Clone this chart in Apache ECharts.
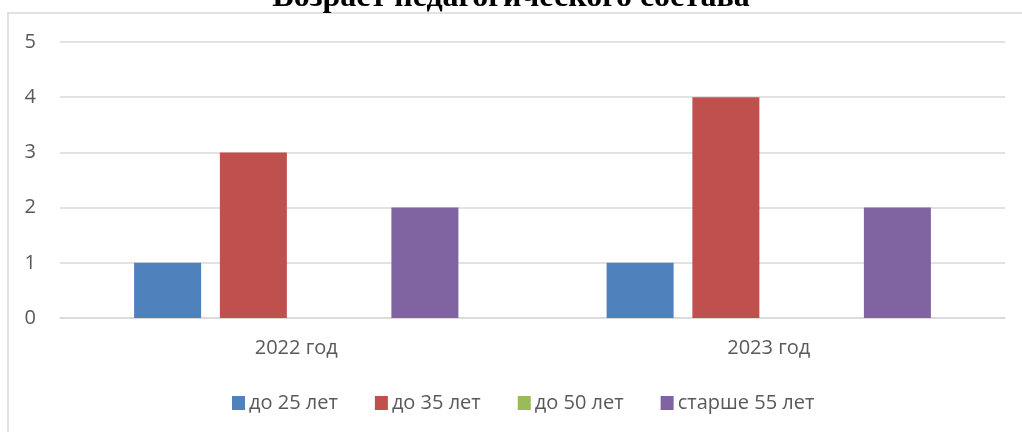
<!DOCTYPE html>
<html>
<head>
<meta charset="utf-8">
<script src="https://cdn.jsdelivr.net/npm/echarts@6/dist/echarts.min.js"></script>
<style>
  html, body { margin: 0; padding: 0; background: #fff; }
  #chart { width: 1022px; height: 432px; }
</style>
</head>
<body>
<div id="chart"></div>
<script>
// data
var years = ['2022 год', '2023 год'];
var names = ['до 25 лет', 'до 35 лет', 'до 50 лет', 'старше 55 лет'];
var under25 = [1, 1];
var under35 = [3, 4];
var under50 = [0, 0];
var over55 = [2, 2];
var colors = ['#4F81BD', '#C0504D', '#9BBB59', '#8064A2'];
var yTicks = [0, 1, 2, 3, 4, 5];

var values = [under25, under35, under50, over55];
var series = names.map(function (n, i) {
    return {
        name: n,
        type: 'bar',
        data: values[i],
        barWidth: 67,
        barGap: '28%',
        barCategoryGap: '31%',
        itemStyle: { color: colors[i] }
    };
});

var font = 'Open Sans';
var myChart = echarts.init(document.getElementById('chart'), null, { renderer: 'canvas' });
myChart.setOption({
    animation: false,
    color: colors,
    title: {
        text: 'Возраст педагогического состава',
        left: 'center',
        top: -23,
        textStyle: {
            fontFamily: 'Liberation Serif',
            fontWeight: 'bold',
            fontSize: 32,
            color: '#000'
        }
    },
    graphic: [{
        type: 'rect',
        shape: { x: 8, y: 13, width: 1030, height: 440 },
        style: { fill: 'none', stroke: '#d9d9d9', lineWidth: 1.5 },
        silent: true,
        z: -1
    }],
    grid: { left: 60, right: 17, top: 42, bottom: 114 },
    legend: {
        top: 388,
        left: 227,
        padding: 5,
        itemWidth: 13,
        itemHeight: 14,
        itemGap: 37,
        icon: 'rect',
        textStyle: { fontFamily: font, fontSize: 20, color: '#595959', padding: [0, 0, 0, -1] },
        data: names
    },
    xAxis: {
        type: 'category',
        data: years,
        axisLine: { lineStyle: { color: '#d9d9d9', width: 1.5 } },
        axisTick: { show: false },
        axisLabel: { fontFamily: font, fontSize: 20, color: '#595959', margin: 20 }
    },
    yAxis: {
        type: 'value',
        min: yTicks[0],
        max: yTicks[yTicks.length - 1],
        interval: 1,
        axisLine: { show: false },
        axisTick: { show: false },
        splitLine: { lineStyle: { color: '#d9d9d9', width: 1.5 } },
        axisLabel: { fontFamily: font, fontSize: 20, color: '#595959', margin: 24 }
    },
    series: series
});
</script>
</body>
</html>
